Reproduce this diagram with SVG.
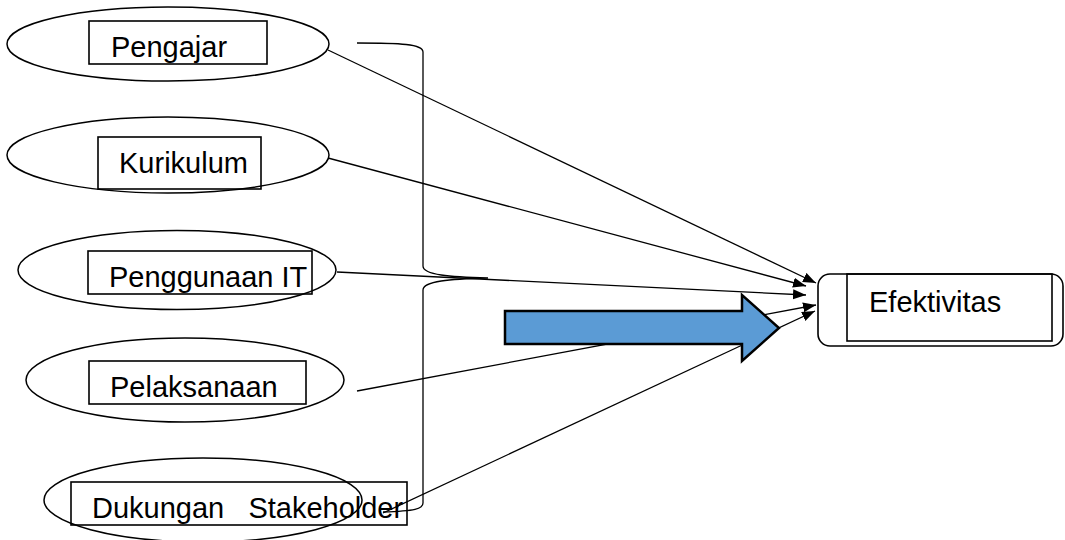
<svg xmlns="http://www.w3.org/2000/svg" width="1065" height="540" viewBox="0 0 1065 540">
<style>
.ell{fill:none;stroke:#000;stroke-width:1.5}
.box{fill:none;stroke:#000;stroke-width:1.6}
.lbl{font-family:"Liberation Sans",Arial,sans-serif;font-size:29px;fill:#000}
.con{fill:none;stroke:#000;stroke-width:1.3}
</style>
<defs>
<marker id="ah" markerUnits="userSpaceOnUse" markerWidth="14" markerHeight="12" refX="13" refY="5" orient="auto">
<path d="M0,0 L13,5 L0,10 Z" fill="#000"/>
</marker>
</defs>
<rect width="1065" height="540" fill="#fff"/>
<g id="pengajar">
<rect class="box" x="89" y="21" width="178" height="43"/>
<text class="lbl" x="111" y="57">Pengajar</text>
<ellipse class="ell" cx="168" cy="44" rx="161" ry="37"/>
</g>
<g id="kurikulum">
<rect class="box" x="98" y="137" width="163" height="52"/>
<text class="lbl" x="119" y="173">Kurikulum</text>
<ellipse class="ell" cx="168" cy="155" rx="161" ry="38"/>
</g>
<g id="penggunaan-it">
<rect class="box" x="88" y="251" width="224" height="43"/>
<text class="lbl" x="109" y="287">Penggunaan IT</text>
<ellipse class="ell" cx="177" cy="270" rx="159" ry="39.5"/>
</g>
<g id="pelaksanaan">
<rect class="box" x="89" y="361" width="217" height="43"/>
<text class="lbl" x="110" y="397">Pelaksanaan</text>
<ellipse class="ell" cx="185" cy="380" rx="159" ry="42"/>
</g>
<g id="dukungan-stakeholder">
<rect class="box" x="71" y="482" width="336" height="43"/>
<text class="lbl" x="92" y="518" xml:space="preserve">Dukungan   Stakeholder</text>
<ellipse class="ell" cx="203" cy="500" rx="159" ry="42"/>
</g>
<g id="efektivitas">
<rect class="box" x="818" y="274" width="245" height="72" rx="12" ry="12"/>
<rect class="box" x="847" y="274" width="205" height="67"/>
<text class="lbl" x="869" y="312">Efektivitas</text>
</g>
<g id="connectors">
<path class="con" d="M357,43 C400,43 423,44 423,52 L423,266 C423,275 450,277 488,278 C450,279 423,281 423,290 L423,503 C423,509 415,511 383,512"/>
<line class="con" x1="328" y1="50" x2="816" y2="283" marker-end="url(#ah)"/>
<line class="con" x1="328" y1="158" x2="806" y2="286" marker-end="url(#ah)"/>
<line class="con" x1="337" y1="272" x2="806" y2="295" marker-end="url(#ah)"/>
<line class="con" x1="357" y1="391" x2="816" y2="305" marker-end="url(#ah)"/>
<line class="con" x1="383" y1="513" x2="815" y2="311" marker-end="url(#ah)"/>
</g>
<g id="big-arrow">
<path d="M505,311 L742,311 L742,295 L779,328 L742,361 L742,344 L505,344 Z" fill="#5b9bd5" stroke="#000" stroke-width="2.5" stroke-linejoin="miter"/>
</g>
</svg>
